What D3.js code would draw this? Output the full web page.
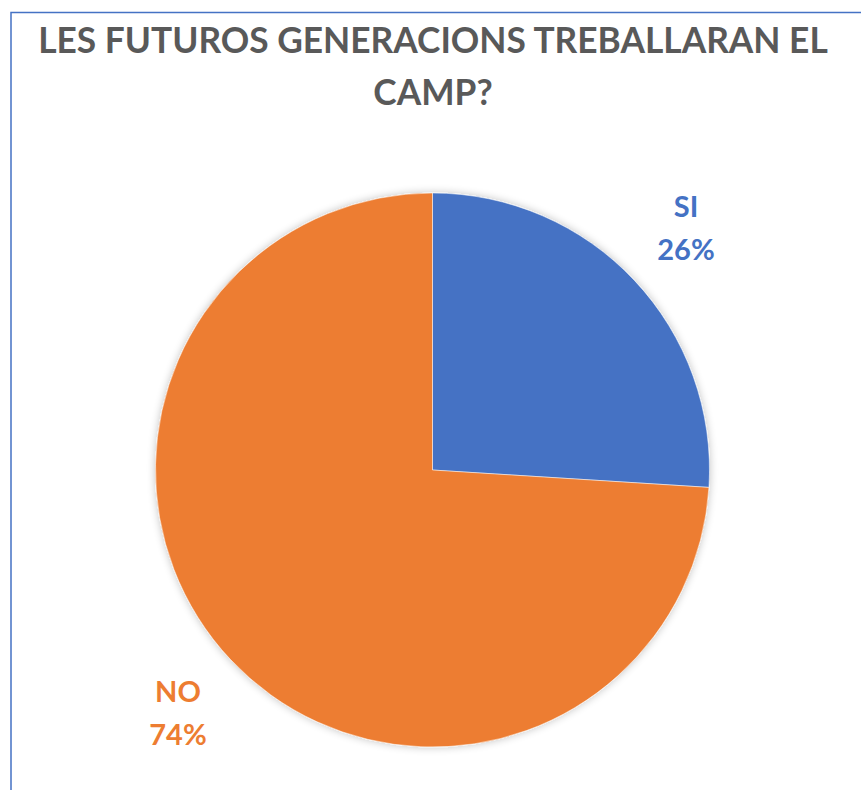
<!DOCTYPE html>
<html>
<head>
<meta charset="utf-8">
<script src="https://cdn.jsdelivr.net/npm/d3@7"></script>
<style>
  body { margin: 0; background: #fff; }
  text { font-family: Lato, "Open Sans", sans-serif; font-weight: bold; }
</style>
</head>
<body>
<div id="chart"></div>
<script>
var svgWidth = 861;
var svgHeight = 790;

// data
var categories = ["SI", "NO"];
var values = [26, 74];
var colors = ["#4472C4", "#ED7D31"];
var titleLines = ["LES FUTUROS GENERACIONS TREBALLARAN EL", "CAMP?"];

var svg = d3.select("#chart")
    .append("svg")
    .attr("width", svgWidth)
    .attr("height", svgHeight);

// chart frame (only top and left edges visible)
svg.append("path")
    .attr("d", "M11,790 L11,12.5 L861,12.5")
    .attr("fill", "none")
    .attr("stroke", "#4472C4")
    .attr("stroke-width", 1.5);

// soft shadow for the pie
var defs = svg.append("defs");
var filter = defs.append("filter")
    .attr("id", "shadow")
    .attr("x", "-10%").attr("y", "-10%")
    .attr("width", "120%").attr("height", "120%");
filter.append("feGaussianBlur")
    .attr("in", "SourceAlpha")
    .attr("stdDeviation", 4);
filter.append("feComponentTransfer")
    .append("feFuncA").attr("type", "linear").attr("slope", 0.25);
var merge = filter.append("feMerge");
merge.append("feMergeNode");
merge.append("feMergeNode").attr("in", "SourceGraphic");

// title
var title = svg.append("g");
var titleSize = 36;
var line1 = title.append("text")
    .attr("x", 433)
    .attr("y", 53)
    .attr("text-anchor", "middle")
    .attr("fill", "#595959")
    .style("font-size", titleSize + "px")
    .text(titleLines[0]);
// fit first title line to the width in the reference
var w = line1.node().getComputedTextLength();
titleSize = titleSize * 790 / w;
line1.style("font-size", titleSize + "px");

title.append("text")
    .attr("x", 433)
    .attr("y", 105)
    .attr("text-anchor", "middle")
    .attr("fill", "#595959")
    .style("font-size", titleSize + "px")
    .text(titleLines[1]);

// pie
var cx = 432.5, cy = 470, radius = 277;

var pie = d3.pie().sort(null).value(d => d);
var arc = d3.arc().innerRadius(0).outerRadius(radius);

var pieGroup = svg.append("g")
    .attr("transform", `translate(${cx}, ${cy})`)
    .attr("filter", "url(#shadow)");

pieGroup.selectAll("path")
    .data(pie(values))
    .enter()
    .append("path")
    .attr("d", arc)
    .attr("fill", (d, i) => colors[i])
    .attr("stroke", "#fff")
    .attr("stroke-width", 0.5);

// labels outside the pie
var labelPos = [[686, 217], [178, 702]];

var labels = svg.selectAll("g.lbl")
    .data(pie(values))
    .enter()
    .append("g")
    .attr("class", "lbl")
    .attr("transform", (d, i) => `translate(${labelPos[i][0]}, ${labelPos[i][1]})`);

labels.append("text")
    .attr("text-anchor", "middle")
    .attr("fill", (d, i) => colors[i])
    .style("font-size", "29px")
    .text((d, i) => categories[i]);

labels.append("text")
    .attr("text-anchor", "middle")
    .attr("y", 43)
    .attr("fill", (d, i) => colors[i])
    .style("font-size", "29px")
    .text(d => d.data + "%");
</script>
</body>
</html>
